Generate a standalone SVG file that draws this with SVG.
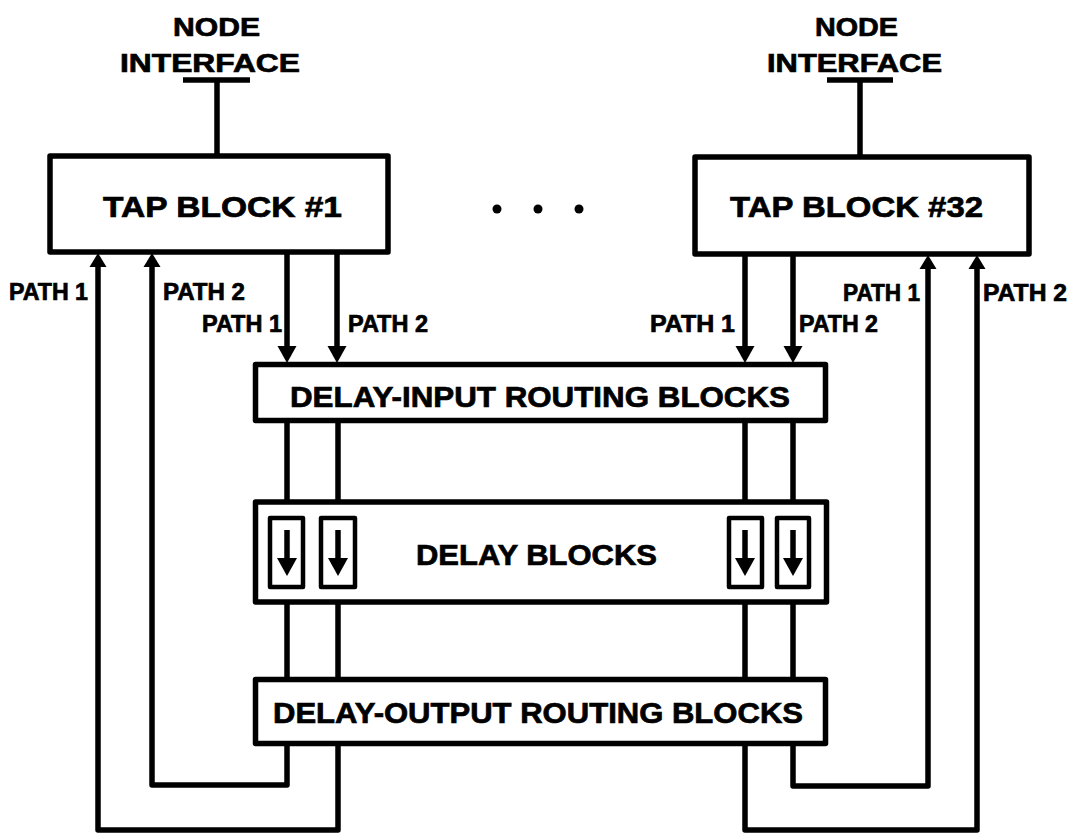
<svg xmlns="http://www.w3.org/2000/svg" xmlns:xlink="http://www.w3.org/1999/xlink" width="1074" height="834" viewBox="0 0 1074 834">
<style>
.box{fill:#fff;stroke:#000;stroke-width:5.5;stroke-linejoin:round}
.sbox{fill:#fff;stroke:#000;stroke-width:4.5;stroke-linejoin:round}
.ln{fill:none;stroke:#000;stroke-width:5.5;stroke-linejoin:round;stroke-linecap:butt}
.t{font-family:"Liberation Sans",Arial,sans-serif;font-weight:bold;fill:#000;stroke:#000;stroke-width:0.7}
.big{font-size:30px}
.mid{font-size:29px}
.ni{font-size:26px}
.pl{font-size:23px}
</style>
<defs>
<path id="dn" d="M-9.5,-17 L9.5,-17 L0,0 Z" fill="#000"/>
<path id="up" d="M-8.5,14 L8.5,14 L0,0 Z" fill="#000"/>
<path id="dn2" d="M-10,-18 L10,-18 L0,0 Z" fill="#000"/>
</defs>
<rect width="1074" height="834" fill="#fff"/>

<g id="connectors">
<!-- node interface stems -->
<path class="ln" d="M183,80 H250 M217,80 V156"/>
<path class="ln" d="M827,80 H893 M860,80 V157"/>
<!-- tap outputs to delay-input -->
<path class="ln" d="M287,252 V346 M337,252 V346 M745,254 V346 M793,254 V346"/>
<use xlink:href="#dn" x="287" y="363"/>
<use xlink:href="#dn" x="337" y="363"/>
<use xlink:href="#dn" x="745" y="363"/>
<use xlink:href="#dn" x="793" y="363"/>
<!-- delay-input to delay blocks -->
<path class="ln" d="M287,420 V517 M338,420 V517 M745,420 V517 M793,420 V517"/>
<!-- delay blocks to delay-output -->
<path class="ln" d="M287,587 V680 M338,587 V680 M745,587 V680 M793,587 V680"/>
<!-- feedback loops -->
<path class="ln" d="M287,743 V785 H152 V266"/>
<path class="ln" d="M338,743 V830 H98 V266"/>
<path class="ln" d="M793,743 V786 H928 V268"/>
<path class="ln" d="M745,743 V830 H977 V268"/>
<use xlink:href="#up" x="152" y="253"/>
<use xlink:href="#up" x="98" y="253"/>
<use xlink:href="#up" x="928" y="255"/>
<use xlink:href="#up" x="977" y="255"/>
</g>

<g id="labels">
<text class="t ni" x="173" y="36" textLength="87" lengthAdjust="spacingAndGlyphs">NODE</text>
<text class="t ni" x="120" y="72" textLength="180" lengthAdjust="spacingAndGlyphs">INTERFACE</text>
<text class="t ni" x="815" y="36" textLength="83" lengthAdjust="spacingAndGlyphs">NODE</text>
<text class="t ni" x="767" y="72" textLength="175" lengthAdjust="spacingAndGlyphs">INTERFACE</text>
<text class="t pl" x="9" y="300" textLength="79" lengthAdjust="spacingAndGlyphs">PATH 1</text>
<text class="t pl" x="163" y="300" textLength="82" lengthAdjust="spacingAndGlyphs">PATH 2</text>
<text class="t pl" x="202" y="332" textLength="80" lengthAdjust="spacingAndGlyphs">PATH 1</text>
<text class="t pl" x="348" y="332" textLength="80" lengthAdjust="spacingAndGlyphs">PATH 2</text>
<text class="t pl" x="650" y="332" textLength="85" lengthAdjust="spacingAndGlyphs">PATH 1</text>
<text class="t pl" x="799" y="332" textLength="79" lengthAdjust="spacingAndGlyphs">PATH 2</text>
<text class="t pl" x="843" y="301" textLength="77" lengthAdjust="spacingAndGlyphs">PATH 1</text>
<text class="t pl" x="983" y="301" textLength="84" lengthAdjust="spacingAndGlyphs">PATH 2</text>
</g>

<g id="tap1">
<rect class="box" x="50" y="156" width="338" height="96"/>
<text class="t big" x="103" y="217" textLength="239" lengthAdjust="spacingAndGlyphs">TAP BLOCK #1</text>
</g>

<g id="tap32">
<rect class="box" x="695" y="157" width="334" height="97"/>
<text class="t big" x="730" y="217" textLength="253" lengthAdjust="spacingAndGlyphs">TAP BLOCK #32</text>
</g>

<g id="ellipsis">
<circle cx="497" cy="209" r="4.5"/>
<circle cx="538" cy="209" r="4.5"/>
<circle cx="579" cy="209" r="4.5"/>
</g>

<g id="delay-input">
<rect class="box" x="255.5" y="364.5" width="570" height="56"/>
<text class="t mid" x="290" y="407" textLength="500" lengthAdjust="spacingAndGlyphs">DELAY-INPUT ROUTING BLOCKS</text>
</g>

<g id="delay-blocks">
<rect class="box" x="255.5" y="502" width="571" height="100"/>
<text class="t mid" x="416" y="565" textLength="241" lengthAdjust="spacingAndGlyphs">DELAY BLOCKS</text>
<g id="delay1">
<rect class="sbox" x="270" y="518" width="33" height="69"/>
<path class="ln" d="M287,530 V560"/>
<use xlink:href="#dn2" x="287" y="576"/>
</g>
<g id="delay2">
<rect class="sbox" x="321" y="518" width="34" height="69"/>
<path class="ln" d="M338,530 V560"/>
<use xlink:href="#dn2" x="338" y="576"/>
</g>
<g id="delay3">
<rect class="sbox" x="729" y="518" width="33" height="69"/>
<path class="ln" d="M745,530 V560"/>
<use xlink:href="#dn2" x="745" y="576"/>
</g>
<g id="delay4">
<rect class="sbox" x="777" y="518" width="32" height="69"/>
<path class="ln" d="M793,530 V560"/>
<use xlink:href="#dn2" x="793" y="576"/>
</g>
</g>

<g id="delay-output">
<rect class="box" x="255.5" y="679.5" width="570" height="64"/>
<text class="t mid" x="273" y="723" textLength="530" lengthAdjust="spacingAndGlyphs">DELAY-OUTPUT ROUTING BLOCKS</text>
</g>
</svg>
